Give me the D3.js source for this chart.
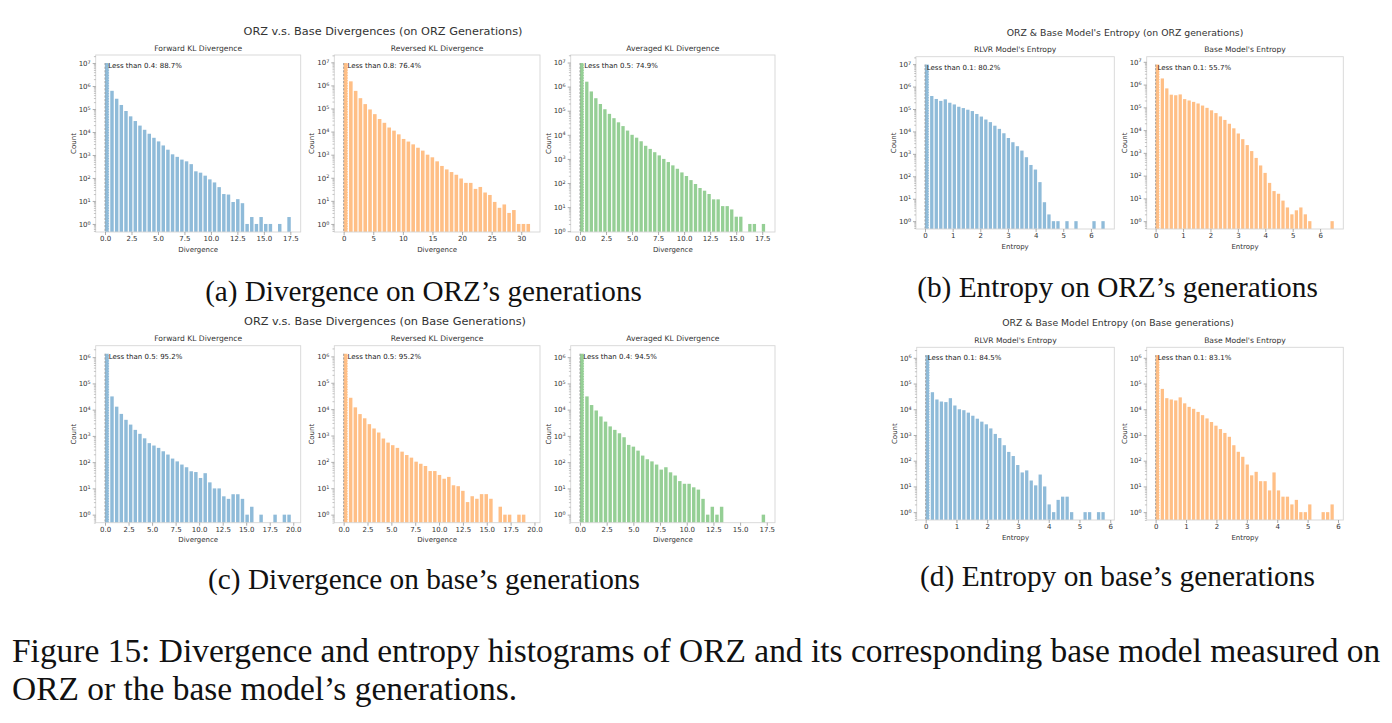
<!DOCTYPE html>
<html>
<head>
<meta charset="utf-8">
<script src="https://cdn.jsdelivr.net/npm/d3@7"></script>
<style>
  body { margin: 0; background: #fff; }
  svg { display: block; }
  .tick text { fill: #333; }
</style>
</head>
<body>
<svg id="fig" width="1392" height="723"></svg>
<script>
// Bin counts (log scale, so values are estimates)
const fwdKlOrz = [1.0e7, 6.2e5, 2.8e5, 1.5e5, 8.2e4, 4.8e4, 3.0e4, 1.9e4, 1.25e4, 8400, 5600, 3900, 2600, 1700, 1070, 830, 630, 530, 400, 195, 170, 126, 87, 64, 40, 20, 19, 9, 12, 8, 1, 2, 1, 2, 1, 1, 0, 1, 0, 2];
const revKlOrz = [9.3e6, 1.5e6, 5.8e5, 2.8e5, 1.55e5, 9.1e4, 5.7e4, 3.5e4, 2.4e4, 1.5e4, 1.1e4, 7600, 4800, 3700, 2800, 2000, 1500, 1000, 770, 515, 325, 230, 177, 135, 93, 60, 60, 33, 40, 23, 18, 9, 5, 7, 3, 4, 1, 1, 1];
const avgKlOrz = [9.5e6, 1.6e6, 6.3e5, 3.3e5, 1.9e5, 1.15e5, 7.4e4, 4.9e4, 3.3e4, 2.3e4, 1.5e4, 1.0e4, 7600, 5400, 3500, 2600, 1900, 1400, 1000, 740, 540, 390, 275, 195, 132, 91, 62, 48, 35, 21, 21, 11, 11, 8, 4, 4, 0, 2, 2, 0, 2];
const rlvrEntOrz = [9.6e6, 3.8e5, 2.8e5, 2.3e5, 2.7e5, 1.9e5, 1.6e5, 1.26e5, 1.1e5, 9.3e4, 8.1e4, 6.0e4, 4.6e4, 3.4e4, 2.6e4, 1.8e4, 1.3e4, 8300, 5100, 3300, 2200, 1400, 710, 320, 200, 55, 7, 2, 1, 1, 0, 1, 0, 1, 0, 0, 0, 1, 0, 1];
const baseEntOrz = [7.6e6, 1.86e6, 6.8e5, 3.6e5, 3.4e5, 3.7e5, 2.3e5, 2.0e5, 1.74e5, 1.48e5, 1.2e5, 9.5e4, 7.4e4, 5.6e4, 4.0e4, 2.8e4, 1.9e4, 1.2e4, 7100, 4000, 2200, 1200, 600, 280, 132, 48, 21, 16, 8, 4, 2, 3, 4, 2, 1, 0, 0, 0, 0, 1];
const fwdKlBase = [1.35e6, 3.2e4, 1.3e4, 6900, 4100, 2700, 1700, 1200, 810, 530, 430, 350, 260, 195, 137, 107, 81, 64, 45, 42, 25, 38, 17, 10, 10, 5, 4, 6, 6, 4, 1, 2, 0, 1, 0, 0, 1, 0, 1, 1];
const revKlBase = [1.26e6, 2.7e4, 1.17e4, 6500, 4500, 2700, 1850, 1300, 770, 540, 430, 340, 245, 182, 145, 102, 85, 70, 45, 45, 32, 23, 27, 13, 12, 8, 3, 5, 4, 6, 6, 4, 0, 2, 1, 1, 0, 1, 1, 0];
const avgKlBase = [1.35e6, 3.2e4, 1.5e4, 9300, 5500, 3500, 2300, 1700, 1260, 890, 455, 390, 275, 178, 129, 107, 81, 52, 64, 41, 31, 19, 15, 15, 11, 9, 4, 1, 2, 1, 2, 0, 0, 0, 0, 0, 0, 0, 0, 1];
const rlvrEntBase = [1.27e6, 4.6e4, 2.4e4, 2.0e4, 1.9e4, 2.7e4, 1.4e4, 1.0e4, 9200, 7400, 5600, 4300, 3300, 2600, 1800, 1100, 760, 400, 220, 152, 68, 35, 42, 17, 11, 29, 10, 2, 1, 3, 4, 4, 1, 0, 0, 1, 1, 0, 1, 1];
const baseEntBase = [1.27e6, 6.2e4, 2.7e4, 2.4e4, 2.2e4, 2.9e4, 1.7e4, 1.24e4, 1.04e4, 7900, 5900, 4400, 3200, 2300, 1700, 1200, 850, 400, 222, 142, 71, 27, 37, 16, 16, 7, 35, 7, 4, 4, 2, 3, 1, 1, 2, 0, 0, 1, 1, 2];

// Bin widths and the "less than" annotations
const binWidths = [0.44, 0.81, 0.435, 0.163, 0.163, 0.495, 0.49, 0.435, 0.146, 0.147];
const thresholds = [0.4, 0.8, 0.5, 0.1, 0.1, 0.5, 0.5, 0.4, 0.1, 0.1];
const shares = ["88.7%", "76.4%", "74.9%", "80.2%", "55.7%", "95.2%", "95.2%", "94.5%", "84.5%", "83.1%"];

// Tick values
const ticksTo175 = [0, 2.5, 5, 7.5, 10, 12.5, 15, 17.5];
const ticksTo20 = [0, 2.5, 5, 7.5, 10, 12.5, 15, 17.5, 20];
const ticksTo30 = [0, 5, 10, 15, 20, 25, 30];
const ticksTo6 = [0, 1, 2, 3, 4, 5, 6];

const blue = "#8fbbd9", orange = "#ffbf86", green = "#95cf95";

const panels = [
    { counts: fwdKlOrz, title: "Forward KL Divergence", xLabel: "Divergence", ticks: ticksTo175, fmt: ".1f", color: blue, box: [95.7, 300.7, 55, 232] },
    { counts: revKlOrz, title: "Reversed KL Divergence", xLabel: "Divergence", ticks: ticksTo30, fmt: "d", color: orange, box: [334.3, 540, 55, 232] },
    { counts: avgKlOrz, title: "Averaged KL Divergence", xLabel: "Divergence", ticks: ticksTo175, fmt: ".1f", color: green, box: [570.7, 775, 55, 232] },
    { counts: rlvrEntOrz, title: "RLVR Model's Entropy", xLabel: "Entropy", ticks: ticksTo6, fmt: "d", color: blue, box: [916, 1114.3, 56.7, 229] },
    { counts: baseEntOrz, title: "Base Model's Entropy", xLabel: "Entropy", ticks: ticksTo6, fmt: "d", color: orange, box: [1146.7, 1343.3, 56.7, 229] },
    { counts: fwdKlBase, title: "Forward KL Divergence", xLabel: "Divergence", ticks: ticksTo20, fmt: ".1f", color: blue, box: [95.7, 300.7, 345.7, 522.7] },
    { counts: revKlBase, title: "Reversed KL Divergence", xLabel: "Divergence", ticks: ticksTo20, fmt: ".1f", color: orange, box: [334.3, 540, 345.7, 522.7] },
    { counts: avgKlBase, title: "Averaged KL Divergence", xLabel: "Divergence", ticks: ticksTo175, fmt: ".1f", color: green, box: [570.7, 775, 345.7, 522.7] },
    { counts: rlvrEntBase, title: "RLVR Model's Entropy", xLabel: "Entropy", ticks: ticksTo6, fmt: "d", color: blue, box: [916.7, 1114.3, 347.3, 520] },
    { counts: baseEntBase, title: "Base Model's Entropy", xLabel: "Entropy", ticks: ticksTo6, fmt: "d", color: orange, box: [1146.7, 1343.3, 347.3, 520] }
];

const svg = d3.select("#fig");
const sans = "DejaVu Sans, sans-serif";
const serif = "Liberation Serif, Times New Roman, serif";

function drawPanel(p, i) {
    const [x0, x1, y0, y1] = p.box;
    const w = binWidths[i];
    const n = p.counts.length;
    const xmax = n * w;

    // matplotlib style 5% margins
    const x = d3.scaleLinear()
        .domain([-0.05 * xmax, xmax * 1.05])
        .range([x0, x1]);

    const positive = p.counts.filter(c => c > 0);
    const lo = Math.log10(d3.min(positive));
    const hi = Math.log10(d3.max(positive));
    const pad = (hi - lo) * 0.05;
    const y = d3.scaleLog()
        .domain([Math.pow(10, lo - pad), Math.pow(10, hi + pad)])
        .range([y1, y0]);

    const g = svg.append("g");

    // bars
    const bins = p.counts.map((c, k) => ({ k: k, c: c })).filter(d => d.c > 0);
    g.selectAll("rect.bar")
        .data(bins)
        .enter()
        .append("rect")
        .attr("class", "bar")
        .attr("x", d => x(d.k * w) + (d.k === 0 ? 0 : 0.6))
        .attr("width", d => x((d.k + 1) * w) - x(d.k * w) - (d.k === 0 ? 0.6 : 1.2))
        .attr("y", d => y(d.c))
        .attr("height", d => y1 - y(d.c))
        .attr("fill", p.color);

    // dashed outline of the first bin
    const firstTop = y(p.counts[0]);
    g.append("line")
        .attr("x1", x(0)).attr("x2", x(0))
        .attr("y1", firstTop).attr("y2", y1)
        .attr("stroke", "#999").attr("stroke-width", 0.9)
        .attr("stroke-dasharray", "2.2,1.4");
    g.append("line")
        .attr("x1", x(w) - 0.6).attr("x2", x(w) - 0.6)
        .attr("y1", firstTop).attr("y2", y1)
        .attr("stroke", "#fff").attr("stroke-width", 0.9)
        .attr("stroke-dasharray", "1.4,1.2");

    // frame
    g.append("rect")
        .attr("x", x0).attr("y", y0)
        .attr("width", x1 - x0).attr("height", y1 - y0)
        .attr("fill", "none")
        .attr("stroke", "#d6d6d6")
        .attr("stroke-width", 0.9);

    // x axis
    const xAxis = g.append("g")
        .attr("transform", `translate(0,${y1})`)
        .call(d3.axisBottom(x).tickValues(p.ticks).tickFormat(d3.format(p.fmt)).tickSize(3).tickPadding(1.5));
    xAxis.select(".domain").remove();
    xAxis.selectAll("line").attr("stroke", "#777").attr("stroke-width", 0.6);
    xAxis.selectAll("text").attr("font-family", sans).attr("font-size", 7);

    // y axis, major decades
    const dom = y.domain();
    const decades = d3.range(Math.ceil(Math.log10(dom[0])), Math.floor(Math.log10(dom[1])) + 1);
    const yAxis = g.append("g")
        .attr("transform", `translate(${x0},0)`)
        .call(d3.axisLeft(y).tickValues(decades.map(e => Math.pow(10, e))).tickFormat("").tickSize(3).tickPadding(2));
    yAxis.select(".domain").remove();
    yAxis.selectAll("line").attr("stroke", "#777").attr("stroke-width", 0.6);
    yAxis.selectAll(".tick text")
        .attr("font-family", sans)
        .attr("font-size", 7)
        .each(function (d) {
            const t = d3.select(this);
            const e = Math.round(Math.log10(d));
            t.append("tspan").text("10");
            t.append("tspan").attr("dy", "-0.45em").attr("font-size", 4.9).text(String(e));
        });

    // minor ticks
    const minors = [];
    for (let e = Math.floor(Math.log10(dom[0])); e <= Math.ceil(Math.log10(dom[1])); e++) {
        for (let m = 2; m <= 9; m++) {
            const v = m * Math.pow(10, e);
            if (v > dom[0] && v < dom[1]) minors.push(v);
        }
    }
    const yMinor = g.append("g")
        .attr("transform", `translate(${x0},0)`)
        .call(d3.axisLeft(y).tickValues(minors).tickFormat("").tickSize(1.8));
    yMinor.select(".domain").remove();
    yMinor.selectAll("line").attr("stroke", "#888").attr("stroke-width", 0.5);

    // labels
    g.append("text")
        .attr("x", (x0 + x1) / 2).attr("y", y0 - 4.5)
        .attr("text-anchor", "middle")
        .attr("font-family", sans).attr("font-size", 7.6).attr("fill", "#333")
        .text(p.title);
    g.append("text")
        .attr("x", (x0 + x1) / 2).attr("y", y1 + 19.5)
        .attr("text-anchor", "middle")
        .attr("font-family", sans).attr("font-size", 7).attr("fill", "#333")
        .text(p.xLabel);
    g.append("text")
        .attr("transform", `translate(${x0 - 20},${(y0 + y1) / 2}) rotate(-90)`)
        .attr("text-anchor", "middle")
        .attr("font-family", sans).attr("font-size", 7).attr("fill", "#333")
        .text("Count");
    g.append("text")
        .attr("x", x(thresholds[i]) - 1).attr("y", y0 + 13)
        .attr("font-family", sans).attr("font-size", 7).attr("fill", "#222")
        .text(`Less than ${thresholds[i]}: ${shares[i]}`);
}

panels.forEach(drawPanel);

// figure titles
const supTitles = [
    { text: "ORZ v.s. Base Divergences (on ORZ Generations)", x: 383, y: 34.5, size: 11.3 },
    { text: "ORZ & Base Model's Entropy (on ORZ generations)", x: 1125, y: 35.5, size: 9.3 },
    { text: "ORZ v.s. Base Divergences (on Base Generations)", x: 385, y: 324.5, size: 11.3 },
    { text: "ORZ & Base Model Entropy (on Base generations)", x: 1118, y: 326, size: 9.3 }
];
supTitles.forEach(t => {
    svg.append("text")
        .attr("x", t.x).attr("y", t.y)
        .attr("text-anchor", "middle")
        .attr("font-family", sans).attr("font-size", t.size).attr("fill", "#333")
        .text(t.text);
});

// captions, scaled to the widths they take in the page
function fitWidth(sel, target) {
    const fs = parseFloat(sel.attr("font-size"));
    const w = sel.node().getComputedTextLength();
    sel.attr("font-size", fs * target / w);
    return fs * target / w;
}

const subCaptions = [
    { text: "(a) Divergence on ORZ\u2019s generations", x: 423.5, y: 301, width: 437 },
    { text: "(b) Entropy on ORZ\u2019s generations", x: 1117.5, y: 297, width: 401 },
    { text: "(c) Divergence on base\u2019s generations", x: 424, y: 589, width: 432 },
    { text: "(d) Entropy on base\u2019s generations", x: 1117.5, y: 586, width: 395 }
];
subCaptions.forEach(c => {
    const t = svg.append("text")
        .attr("x", c.x).attr("y", c.y)
        .attr("text-anchor", "middle")
        .attr("font-family", serif).attr("font-size", 26).attr("fill", "#111")
        .text(c.text);
    fitWidth(t, c.width);
});

const line1 = svg.append("text")
    .attr("x", 12).attr("y", 662)
    .attr("font-family", serif).attr("font-size", 30).attr("fill", "#111")
    .text("Figure 15: Divergence and entropy histograms of ORZ and its corresponding base model measured on");
const capSize = fitWidth(line1, 1369);
svg.append("text")
    .attr("x", 12).attr("y", 700)
    .attr("font-family", serif).attr("font-size", capSize).attr("fill", "#111")
    .text("ORZ or the base model\u2019s generations.");
</script>
</body>
</html>
